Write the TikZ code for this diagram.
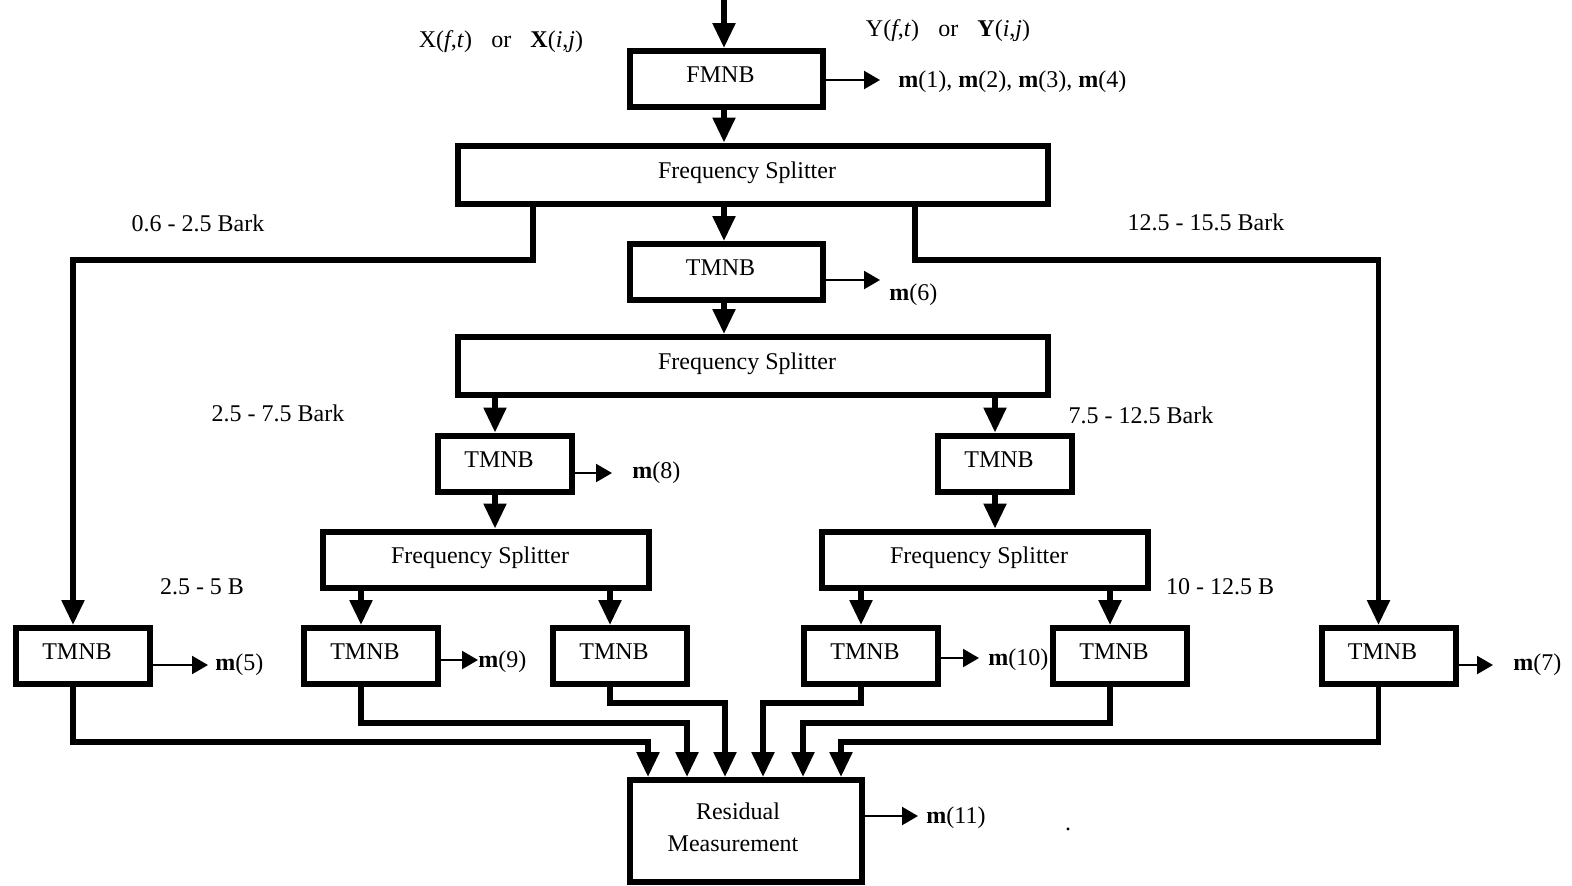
\documentclass[tikz,border=0pt]{standalone}
\usepackage{fontspec}
\setmainfont{Liberation Serif}
\usetikzlibrary{arrows.meta}

\begin{document}
\begin{tikzpicture}[x=0.5pt,y=-0.5pt,font=\fontsize{12}{16}\selectfont,
  frame/.style={draw,rectangle,line width=3pt,inner sep=0pt},
  blk/.style={frame,text height=8pt,text depth=4.5pt,execute at begin node={\hspace*{-6pt}}},
  mid/.style={blk,minimum width=96.5pt,minimum height=28pt},
  wide/.style={blk,minimum width=295pt,minimum height=29pt},
  split/.style={blk,minimum width=163pt,minimum height=28pt},
  tmnb/.style={blk,minimum width=67pt,minimum height=28pt},
  resbox/.style={frame,minimum width=116pt,minimum height=51pt,align=center,text depth=4pt},
  conn/.style={line width=2.7pt,-{Triangle[length=12.5pt,width=11pt]}},
  outarr/.style={line width=1.1pt,-{Triangle[length=8pt,width=9pt]}},
  lbl/.style={inner sep=0pt}]
\useasboundingbox (0,0) rectangle (1572,885);
% blocks
\node[mid] (fmnb) at (726.5,79) {FMNB};
\node[wide] (fs1) at (753,174.5) {Frequency Splitter};
\node[mid] (tm6) at (726.5,272) {TMNB};
\node[wide] (fs2) at (753,366) {Frequency Splitter};
\node[tmnb] (tm8) at (505,463.5) {TMNB};
\node[tmnb] (tmr) at (1005,463.5) {TMNB};
\node[split] (fs3) at (486,559.5) {Frequency Splitter};
\node[split] (fs4) at (985,559.5) {Frequency Splitter};
\foreach \n/\x in {tm5/83,tm9/371,tmc/620,tm10/871,tmd/1120,tm7/1388.5}
  \node[tmnb] (\n) at (\x,656) {TMNB};
\node[resbox] (res) at (746,831) {Residual\kern8pt\\Measurement\kern13pt};
% signals in
\coordinate (ax) at (724,0);
\node[lbl] (xin) at (501,42) {X(\textit{f},\textit{t})\hspace{0.8em}or\hspace{0.8em}\textbf{X}(\textit{i},\textit{j})};
\node[lbl] (yin) at (948,31) {Y(\textit{f},\textit{t})\hspace{0.8em}or\hspace{0.8em}\textbf{Y}(\textit{i},\textit{j})};
% band labels
\node[lbl] (bk1) at (198,223) {0.6 - 2.5 Bark};
\node[lbl] (bk2) at (1206,222) {12.5 - 15.5 Bark};
\node[lbl] (bk3) at (278,413) {2.5 - 7.5 Bark};
\node[lbl] (bk4) at (1141,415) {7.5 - 12.5 Bark};
\node[lbl] (bk5) at (202,587) {2.5 - 5 B};
\node[lbl] (bk6) at (1220,587) {10 - 12.5 B};
% main chain
\draw[conn] (ax) -- (ax |- fmnb.north);
\draw[conn] (ax |- fmnb.south) -- (ax |- fs1.north);
\draw[conn] (ax |- fs1.south) -- (ax |- tm6.north);
\draw[conn] (ax |- tm6.south) -- (ax |- fs2.north);
\draw[conn] ([xshift=-5pt]tm8.north |- fs2.south) -- ([xshift=-5pt]tm8.north);
\draw[conn] ([xshift=-5pt]tmr.north |- fs2.south) -- ([xshift=-5pt]tmr.north);
\draw[conn] ([xshift=-5pt]tm8.south) -- ([xshift=-5pt]tm8.south |- fs3.north);
\draw[conn] ([xshift=-5pt]tmr.south) -- ([xshift=-5pt]tmr.south |- fs4.north);
\draw[conn] ([xshift=-5pt]tm9.north |- fs3.south) -- ([xshift=-5pt]tm9.north);
\draw[conn] ([xshift=-5pt]tmc.north |- fs3.south) -- ([xshift=-5pt]tmc.north);
\draw[conn] ([xshift=-5pt]tm10.north |- fs4.south) -- ([xshift=-5pt]tm10.north);
\draw[conn] ([xshift=-5pt]tmd.north |- fs4.south) -- ([xshift=-5pt]tmd.north);
% outer bands
\coordinate (b1) at (533,260);
\coordinate (b2) at (915,260);
\draw[conn] (b1 |- fs1.south) -- (b1) -| ([xshift=-5pt]tm5.north);
\draw[conn] (b2 |- fs1.south) -- (b2) -| ([xshift=-5pt]tm7.north);
% into residual
\coordinate (k1) at (648,742);
\coordinate (k2) at (687,723);
\coordinate (k3) at (725,703);
\coordinate (k4) at (763,703);
\coordinate (k5) at (803,723);
\coordinate (k6) at (841,742);
\foreach \n/\k in {tm5/k1,tm9/k2,tmc/k3,tm10/k4,tmd/k5,tm7/k6}
  \draw[conn] ([xshift=-5pt]\n.south) |- (\k) -- (\k |- res.north);
% measures
\foreach \b/\x/\y in {fmnb/880/80,tm6/880/280,tm8/612/473,tm5/208/665,tm9/478/660,tm10/979/658,tm7/1493/665,res/918/816}{
  \coordinate (\b out) at (\x,\y);
  \draw[outarr] (\b.east |- \b out) -- (\b out);
}
\node[lbl,anchor=west] (m14) at (898,82) {\textbf{m}(1), \textbf{m}(2), \textbf{m}(3), \textbf{m}(4)};
\node[lbl,anchor=west] (m6) at (889,295) {\textbf{m}(6)};
\node[lbl,anchor=west] (m8) at (632,473) {\textbf{m}(8)};
\node[lbl,anchor=west] (m5) at (215,665) {\textbf{m}(5)};
\node[lbl,anchor=west] (m9) at (478,662) {\textbf{m}(9)};
\node[lbl,anchor=west] (m10) at (988,660) {\textbf{m}(10)};
\node[lbl,anchor=west] (m7) at (1513,665) {\textbf{m}(7)};
\node[lbl,anchor=west] (m11) at (926,818) {\textbf{m}(11)};
\node[lbl] (dot) at (1068,829) {.};
\end{tikzpicture}
\end{document}
